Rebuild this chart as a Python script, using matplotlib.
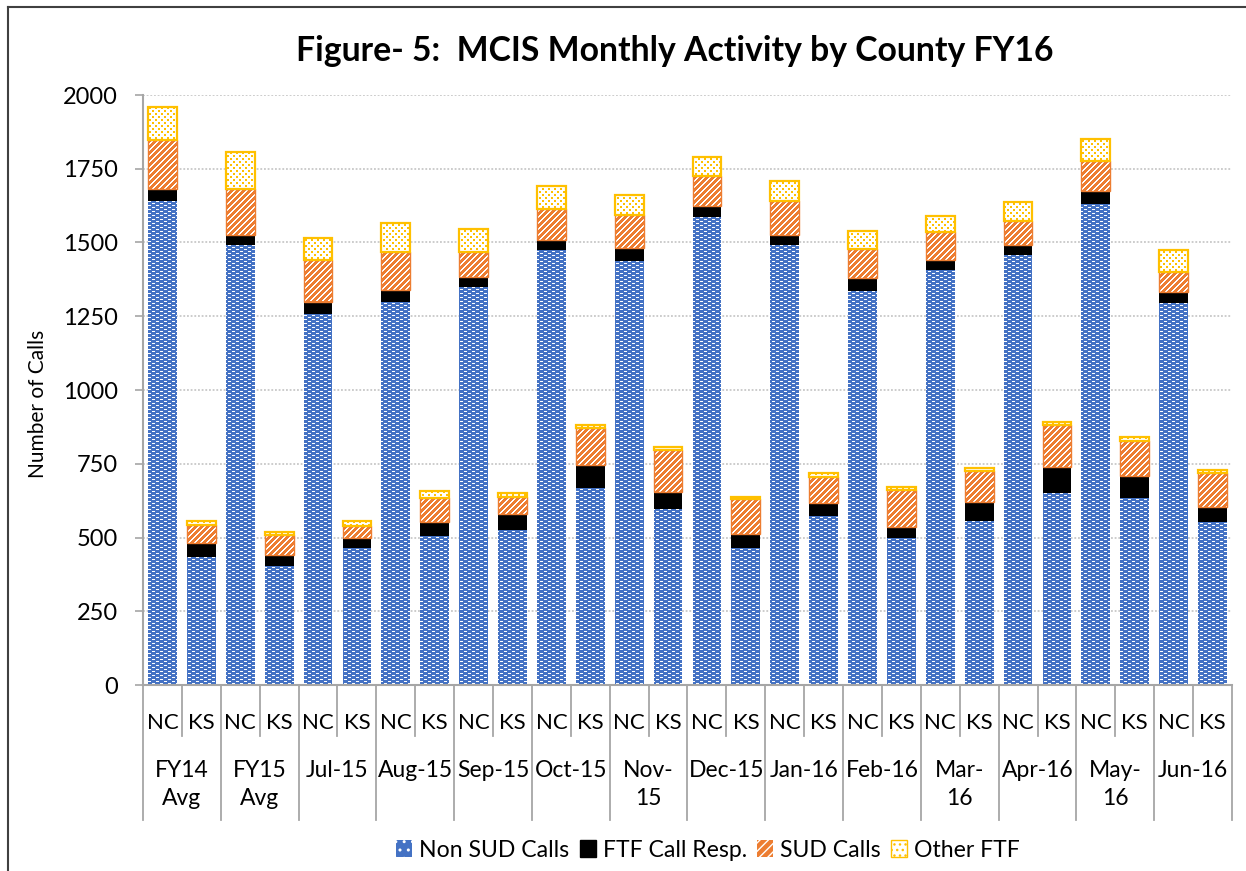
import matplotlib
matplotlib.use('Agg')
import matplotlib.pyplot as plt
import matplotlib.colors as mcolors
from matplotlib.path import Path
from matplotlib.patches import Patch
from matplotlib.lines import Line2D
import numpy as np

# ---------------- data ----------------
groups = ['FY14\nAvg', 'FY15\nAvg', 'Jul-15', 'Aug-15', 'Sep-15', 'Oct-15', 'Nov-\n15',
          'Dec-15', 'Jan-16', 'Feb-16', 'Mar-\n16', 'Apr-16', 'May-\n16', 'Jun-16']
counties = ['NC', 'KS']
series_names = ['Non SUD Calls', 'FTF Call Resp.', 'SUD Calls', 'Other FTF']

non_sud_nc = [1640, 1490, 1257, 1299, 1348, 1476, 1438, 1585, 1493, 1334, 1407, 1456, 1630, 1296]
ftf_nc = [43, 37, 43, 41, 36, 34, 44, 40, 34, 46, 35, 35, 43, 35]
sud_nc = [164, 153, 141, 129, 83, 102, 112, 99, 113, 99, 94, 83, 104, 70]
other_nc = [111, 126, 74, 97, 80, 81, 66, 66, 69, 61, 53, 63, 74, 73]

non_sud_ks = [435, 404, 463, 504, 526, 669, 595, 463, 572, 499, 557, 650, 634, 552]
ftf_ks = [48, 37, 37, 49, 53, 78, 60, 50, 44, 35, 63, 88, 75, 53]
sud_ks = [61, 66, 38, 81, 58, 123, 141, 116, 89, 128, 104, 144, 119, 112]
other_ks = [11, 12, 17, 23, 15, 10, 10, 8, 15, 9, 13, 8, 12, 13]

title = 'Figure- 5:  MCIS Monthly Activity by County FY16'
ylabel = 'Number of Calls'
yticks = [0, 250, 500, 750, 1000, 1250, 1500, 1750, 2000]

# ---------------- style ----------------
FONT = 'Lato'
BLUE = '#4472C4'
ORANGE = '#ED7D31'
GOLD = '#FFC000'
GRAY = '#A6A6A6'
plt.rcParams['font.family'] = [FONT, 'DejaVu Sans']

def interleave(a, b):
    out = []
    for x, y in zip(a, b):
        out += [x, y]
    return np.array(out, dtype=float)

non_sud = interleave(non_sud_nc, non_sud_ks)
ftf = interleave(ftf_nc, ftf_ks)
sud = interleave(sud_nc, sud_ks)
other = interleave(other_nc, other_ks)
n = len(non_sud)
x = np.arange(n)

FW, FH, DPI = 1246, 871, 100
fig = plt.figure(figsize=(FW / DPI, FH / DPI), dpi=DPI)
AX_L, AX_R, AX_T, AX_B = 143, 1232, 95, 685
ax = fig.add_axes([AX_L / FW, (FH - AX_B) / FH, (AX_R - AX_L) / FW, (AX_B - AX_T) / FH])

bw = 0.74
b1 = ax.bar(x, non_sud, bw, color=BLUE, zorder=2, linewidth=0)
b2 = ax.bar(x, ftf, bw, bottom=non_sud, color='black', zorder=2, linewidth=0)
b3 = ax.bar(x, sud, bw, bottom=non_sud + ftf, color=ORANGE, zorder=2, linewidth=0)
b4 = ax.bar(x, other, bw, bottom=non_sud + ftf + sud, color='white', zorder=2, linewidth=0)

XL = (-0.5, n - 0.5)
YL = (0, 2000)

# ---------------- pixel textures ----------------
H, W = AX_B - AX_T, AX_R - AX_L
yy, xx = np.mgrid[0:H, 0:W]

def texture(bg, fg, mask):
    t = np.empty((H, W, 4))
    t[:] = mcolors.to_rgba(bg)
    t[mask] = mcolors.to_rgba(fg)
    return t

blue_mask = (((yy % 4) == 0) & ((xx % 8) >= 1) & ((xx % 8) <= 3)) | \
            (((yy % 4) == 2) & ((xx % 8) >= 5))
orange_mask = ((xx + yy) % 6) < 2
gold_mask = (((yy % 6) < 2) & ((xx % 6) < 2)) | ((((yy + 3) % 6) < 2) & (((xx + 3) % 6) < 2))

def compound(container):
    return Path.make_compound_path(*[p.get_path().transformed(p.get_patch_transform())
                                     for p in container])

# quarter-pixel offset so nearest sampling never lands on a pixel boundary
dx = 0.25 * (XL[1] - XL[0]) / W
dy = 0.25 * (YL[1] - YL[0]) / H
for cont, tex in [(b1, texture(BLUE, 'white', blue_mask)),
                  (b3, texture(ORANGE, 'white', orange_mask)),
                  (b4, texture('white', GOLD, gold_mask))]:
    im = ax.imshow(tex, extent=(XL[0] + dx, XL[1] + dx, YL[0] + dy, YL[1] + dy),
                   aspect='auto', interpolation='nearest', origin='upper', zorder=2.5)
    im.set_clip_path(compound(cont), transform=ax.transData)

# borders for the lighter segments
ax.bar(x, sud, bw, bottom=non_sud + ftf, facecolor='none', edgecolor=ORANGE, linewidth=1.0, zorder=3)
ax.bar(x, other, bw, bottom=non_sud + ftf + sud, facecolor='none', edgecolor=GOLD, linewidth=1.6, zorder=3)

ax.set_xlim(*XL)
ax.set_ylim(*YL)

# ---------------- axes styling ----------------
ax.set_yticks(yticks)
ax.set_yticklabels([str(v) for v in yticks], fontsize=17)
ax.tick_params(axis='y', length=6, width=1.2, color=GRAY, pad=12)
ax.yaxis.grid(True, linestyle=(0, (1.2, 1.2)), color='#BFBFBF', linewidth=1.1)
ax.set_axisbelow(True)
for s in ['top', 'right']:
    ax.spines[s].set_visible(False)
ax.spines['left'].set_color(GRAY)
ax.spines['left'].set_linewidth(1.5)
ax.spines['bottom'].set_color(GRAY)
ax.spines['bottom'].set_linewidth(1.5)

ax.set_xticks(x)
ax.set_xticklabels([counties[i % 2] for i in range(n)], fontsize=16)
ax.tick_params(axis='x', length=0, pad=20)

PT = 72 / DPI
trans = ax.get_xaxis_transform()
for g in range(len(groups) + 1):
    ax.plot([2 * g - 0.5, 2 * g - 0.5], [0, -135 / H], transform=trans, color=GRAY,
            linewidth=1.3, clip_on=False, zorder=1)
for g in range(len(groups)):
    ax.plot([2 * g + 0.5, 2 * g + 0.5], [0, -51 / H], transform=trans, color=GRAY,
            linewidth=1.3, clip_on=False, zorder=1)
    ax.annotate(groups[g], xy=(2 * g + 0.5, 0), xycoords=trans,
                xytext=(0, -75 * PT), textcoords='offset points',
                ha='center', va='top', fontsize=16.5, linespacing=1.42)

# ---------------- texts ----------------
fig.text(675 / FW, 1 - 51 / FH, title, ha='center', va='center', fontsize=24.3,
         fontweight='bold')
fig.text(38 / FW, 1 - 404 / FH, ylabel, rotation=90, ha='center', va='center', fontsize=15)

# frame of the chart area (visible on left and top)
fig.add_artist(Line2D([8 / FW, 8 / FW], [0, 1 - 7 / FH], color='#404040', linewidth=1.5))
fig.add_artist(Line2D([8 / FW, 1], [1 - 7 / FH, 1 - 7 / FH], color='#404040', linewidth=1.5))

# ---------------- legend ----------------
handles = [Patch(facecolor=BLUE, edgecolor='white', hatch='..', linewidth=0),
           Patch(facecolor='black', edgecolor='black'),
           Patch(facecolor=ORANGE, edgecolor='white', hatch='////', linewidth=0),
           Patch(facecolor='white', edgecolor=GOLD, hatch='...', linewidth=1)]
fig.legend(handles, series_names, loc='center', bbox_to_anchor=(708 / FW, 1 - 850 / FH),
           ncol=4, frameon=False, fontsize=16.6, handlelength=0.7, handleheight=0.7,
           handletextpad=0.3, columnspacing=0.45, borderaxespad=0)

fig.savefig('out.png', dpi=DPI)
